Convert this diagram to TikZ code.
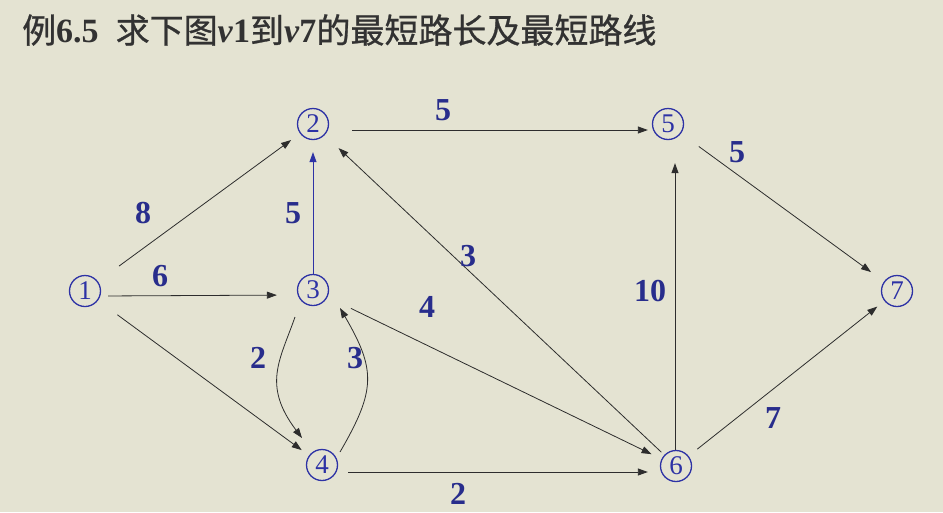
\documentclass[tikz,border=0pt]{standalone}
\usepackage{fontspec}
\setmainfont{Liberation Serif}
\newfontfamily\cjk[FakeBold=0.8]{Noto Sans CJK SC}
\usetikzlibrary{arrows.meta,calc}
\definecolor{bg}{RGB}{228,227,210}
\definecolor{lblue}{RGB}{40,45,140}
\definecolor{cblue}{RGB}{45,50,165}
\definecolor{edgec}{RGB}{45,45,45}
\definecolor{titlec}{RGB}{50,50,50}
\begin{document}
\begin{tikzpicture}[x=1pt,y=-1pt,
 vtx/.style={circle,draw=cblue,line width=1.3pt,minimum size=31pt,inner sep=0pt,text=cblue,font=\fontsize{27}{27}\selectfont},
 wlabel/.style={text=lblue,font=\fontsize{32}{32}\selectfont\bfseries,inner sep=0pt},
 arc/.style={draw=edgec,line width=0.8pt,-{Triangle[length=10pt,width=7pt]}},
]
\fill[bg] (0,0) rectangle (943,512);
\useasboundingbox (0,0) rectangle (943,512);
\node[anchor=west,text=titlec,inner sep=0pt] (title) at (22,30) {\fontsize{34}{34}\selectfont{\cjk 例}\textbf{6.5}\hspace{0.5em}{\cjk 求下图}\textbf{\textit{v}1}{\cjk 到}\textbf{\textit{v}7}{\cjk 的最短路长及最短路线}};
% vertices
\node[vtx] (n1) at (85,291) {1};
\node[vtx] (n2) at (313,124) {2};
\node[vtx] (n3) at (313,290) {3};
\node[vtx] (n4) at (322,465) {4};
\node[vtx] (n5) at (668,124) {5};
\node[vtx] (n6) at (676,466) {6};
\node[vtx] (n7) at (897,291) {7};
% edges
\draw[arc, shorten <=26pt, shorten >=11pt] (n1) -- (n2);
\draw[arc, shorten <=7pt, shorten >=20pt] ([yshift=-5pt]n1.east) -- ([yshift=-5pt]n3.west);
\draw[arc, shorten <=24pt, shorten >=9pt] (n1) -- (n4);
\draw[arc, draw=cblue, shorten >=12pt] (n3) -- (n2);
\draw[arc, shorten <=23pt, shorten >=4pt] ([yshift=-6pt]n2.east) -- ([yshift=-6pt]n2.east -| n5.west);
\draw[arc, shorten <=26pt, shorten >=11pt] (n3) -- (n6);
\draw[arc, shorten <=4pt, shorten >=19pt] (n6) -- (n2);
\draw[arc, shorten <=10pt, shorten >=12pt] ([yshift=-7pt]n4.east) -- ([yshift=-7pt]n4.east -| n6.west);
\draw[arc, shorten >=23pt] ([xshift=-1pt]n6.north) -- ([xshift=-1pt]n6.north |- n5.south);
\draw[arc, shorten <=22pt, shorten >=16pt] (n5) -- (n7);
\draw[arc, shorten <=11pt, shorten >=9pt] (n6) -- (n7);
\draw[arc] ($(n3)+(-18,27)$) .. controls ($(n3)+(-33,70)$) and ($(n3)+(-51,95)$) .. ($(n4)+(-20,-27)$);
\draw[arc] ($(n4)+(18,-13)$) .. controls ($(n4)+(54,-75)$) and ($(n3)+(63,80)$) .. ($(n3)+(27,18)$);
% weights
\node[wlabel] (w12) at (143,213) {8};
\node[wlabel] (w13) at (160,276) {6};
\node[wlabel] (w32) at (293,213) {5};
\node[wlabel] (w25) at (443,110) {5};
\node[wlabel] (w62) at (468,256) {3};
\node[wlabel] (w36) at (427,307) {4};
\node[wlabel] (w34) at (258,358) {2};
\node[wlabel] (w43) at (355,358) {3};
\node[wlabel] (w46) at (458,494) {2};
\node[wlabel] (w65) at (650,291) {10};
\node[wlabel] (w57) at (737,152) {5};
\node[wlabel] (w67) at (773,418) {7};
\end{tikzpicture}
\end{document}
